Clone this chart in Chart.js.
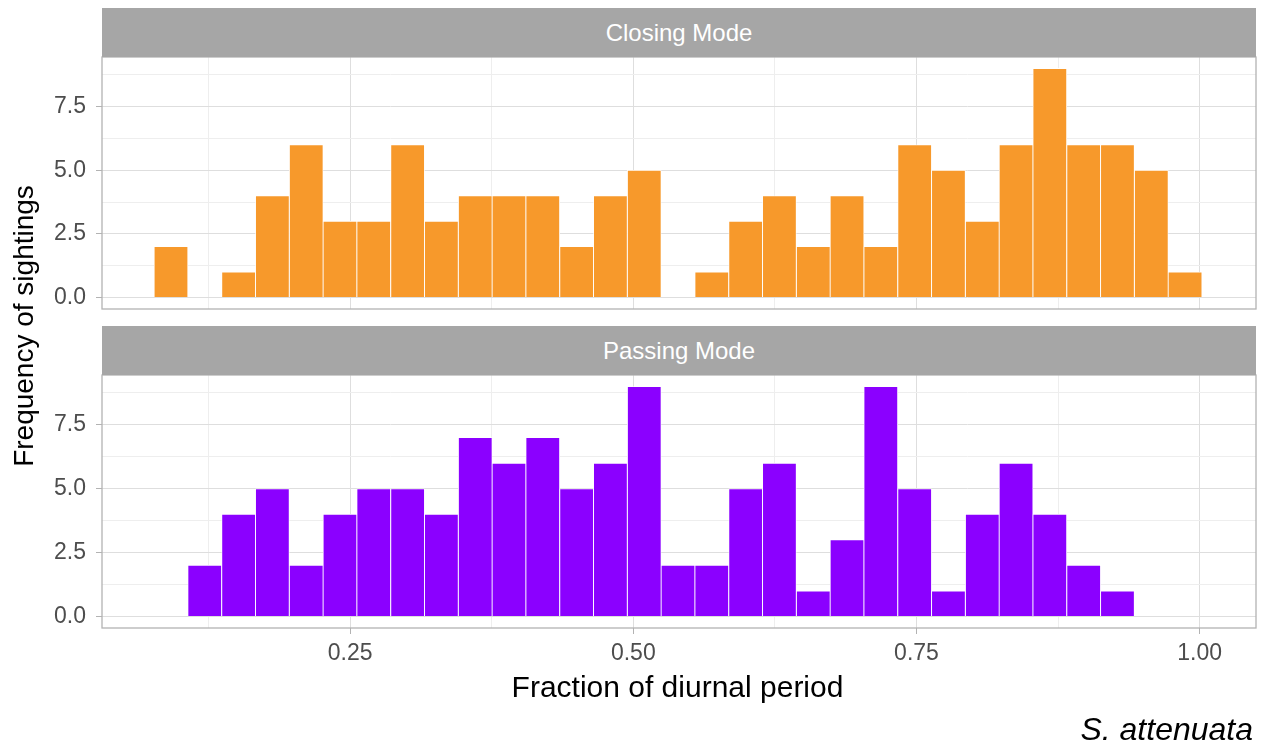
<!DOCTYPE html>
<html>
<head>
<meta charset="utf-8">
<title>Sightings over the diurnal period</title>
<script src="https://cdn.jsdelivr.net/npm/chart.js@4.4.1/dist/chart.umd.min.js"></script>
<style>
  html, body { margin: 0; padding: 0; background: #fff; }
  body { width: 1262px; height: 748px; position: relative; overflow: hidden;
         font-family: "Liberation Sans", Arial, sans-serif; }
  .box { position: absolute; left: 0; width: 1262px; }
  .strip { position: absolute; left: 102px; width: 1154px; height: 49px; background: #a6a6a6;
           color: #fff; font-size: 24px; line-height: 49px; text-align: center; z-index: 2; }
  .xtitle { position: absolute; left: 0; width: 1262px; text-align: center; padding-left: 93px;
            box-sizing: border-box; top: 672px; font-size: 30px; line-height: 30px; color: #000; }
  .ytitle { position: absolute; left: -176px; top: 312px; width: 400px; height: 28px; line-height: 28px;
            text-align: center; font-size: 28px; color: #000; transform: rotate(-90deg); }
  .caption { position: absolute; right: 9px; top: 713px; font-size: 32px; line-height: 32px;
             font-style: italic; color: #000; }
</style>
</head>
<body>

<div class="box" style="top:0;height:320px"><canvas id="closing"></canvas></div>
<div class="box" style="top:320px;height:400px"><canvas id="passing"></canvas></div>

<div class="strip" style="top:8px">Closing Mode</div>
<div class="strip" style="top:326px">Passing Mode</div>
<div class="ytitle">Frequency of sightings</div>
<div class="xtitle">Fraction of diurnal period</div>
<div class="caption">S. attenuata</div>

<script>
/* bin centres (fraction of diurnal period), shared by both panels */
const binCentres = [0.0919, 0.1217, 0.1516, 0.1814, 0.2113, 0.2411, 0.2709, 0.3008, 0.3306, 0.3605,
                    0.3903, 0.4201, 0.4500, 0.4798, 0.5097, 0.5395, 0.5693, 0.5992, 0.6290, 0.6589,
                    0.6887, 0.7185, 0.7484, 0.7782, 0.8081, 0.8379, 0.8677, 0.8976, 0.9274, 0.9573,
                    0.9871];

/* counts per bin */
const closingCounts = [2, 0, 1, 4, 6, 3, 3, 6, 3, 4, 4, 4, 2, 4, 5, 0,
                       1, 3, 4, 2, 4, 2, 6, 5, 3, 6, 9, 6, 6, 5, 1];
const passingCounts = [0, 2, 4, 5, 2, 4, 5, 5, 4, 7, 6, 7, 5, 6, 9, 2,
                       2, 5, 6, 1, 3, 9, 5, 1, 4, 6, 4, 2, 1, 0, 0];

/* axis ticks */
const xMajor = [0.25, 0.50, 0.75, 1.00];
const xMinor = [0.125, 0.375, 0.625, 0.875];
const yMajor = [0, 2.5, 5.0, 7.5];
const yMinor = [1.25, 3.75, 6.25, 8.75];

const xRange = [0.031, 1.0497];
const yRange = [-0.45, 9.45];

const orange = '#f7992b';
const purple = '#8b00ff';
const gridMajor = '#dedede';
const gridMinor = '#eeeeee';
const grey70 = '#b3b3b3';
const tickText = '#4d4d4d';
const font = '"Liberation Sans", Arial, sans-serif';

/* grey frame round each panel, like theme_light */
const panelBox = {
  id: 'panelBox',
  afterDraw(chart) {
    const { ctx, chartArea: a } = chart;
    ctx.save();
    ctx.strokeStyle = grey70;
    ctx.lineWidth = 1.3;
    ctx.strokeRect(a.left, a.top, a.right - a.left, a.bottom - a.top);
    ctx.restore();
  }
};

function ticksFrom(list) {
  return s => { s.ticks = list.slice().sort((a, b) => a - b).map(v => ({ value: v })); };
}

function makePanel(id, counts, colour, showX, pad) {
  return new Chart(document.getElementById(id), {
    type: 'bar',
    data: {
      datasets: [{
        data: binCentres.map((x, i) => ({ x, y: counts[i] })),
        backgroundColor: colour,
        borderColor: '#ffffff',
        borderWidth: 0.8,
        borderSkipped: 'start',
        barPercentage: 1.0,
        categoryPercentage: 1.0
      }]
    },
    options: {
      responsive: true,
      maintainAspectRatio: false,
      animation: false,
      layout: { padding: pad },
      plugins: { legend: { display: false }, tooltip: { enabled: false } },
      scales: {
        x: {
          type: 'linear',
          min: xRange[0], max: xRange[1],
          offset: false,
          afterBuildTicks: ticksFrom(xMajor.concat(xMinor)),
          afterFit: s => { s.height = showX ? 40 : 0; s.paddingLeft = 0; s.paddingRight = 0; },
          grid: {
            offset: false,
            drawTicks: showX,
            tickLength: 6,
            color: c => xMinor.includes(c.tick && c.tick.value) ? gridMinor : gridMajor,
            tickColor: c => xMinor.includes(c.tick && c.tick.value) ? 'rgba(0,0,0,0)' : grey70
          },
          border: { display: false },
          ticks: {
            display: showX,
            autoSkip: false,
            maxRotation: 0,
            padding: 6,
            color: tickText,
            font: { family: font, size: 23 },
            callback: v => xMajor.includes(v) ? v.toFixed(2) : ''
          }
        },
        y: {
          min: yRange[0], max: yRange[1],
          afterBuildTicks: ticksFrom(yMajor.concat(yMinor)),
          /* fixed axis width; labels may overhang the panel like in ggplot */
          afterFit: s => { s.width = 102; s.paddingTop = 0; s.paddingBottom = 0; },
          grid: {
            tickLength: 6,
            color: c => yMinor.includes(c.tick && c.tick.value) ? gridMinor : gridMajor,
            tickColor: c => yMinor.includes(c.tick && c.tick.value) ? 'rgba(0,0,0,0)' : grey70
          },
          border: { display: false },
          ticks: {
            autoSkip: false,
            padding: 10,
            color: tickText,
            font: { family: font, size: 23 },
            callback: v => yMajor.includes(v) ? v.toFixed(1) : ''
          }
        }
      }
    },
    plugins: [panelBox]
  });
}

document.addEventListener('DOMContentLoaded', () => {
  makePanel('closing', closingCounts, orange, false, { top: 57, right: 6, bottom: 11, left: 0 });
  makePanel('passing', passingCounts, purple, true, { top: 55, right: 6, bottom: 52, left: 0 });
});
</script>
</body>
</html>
